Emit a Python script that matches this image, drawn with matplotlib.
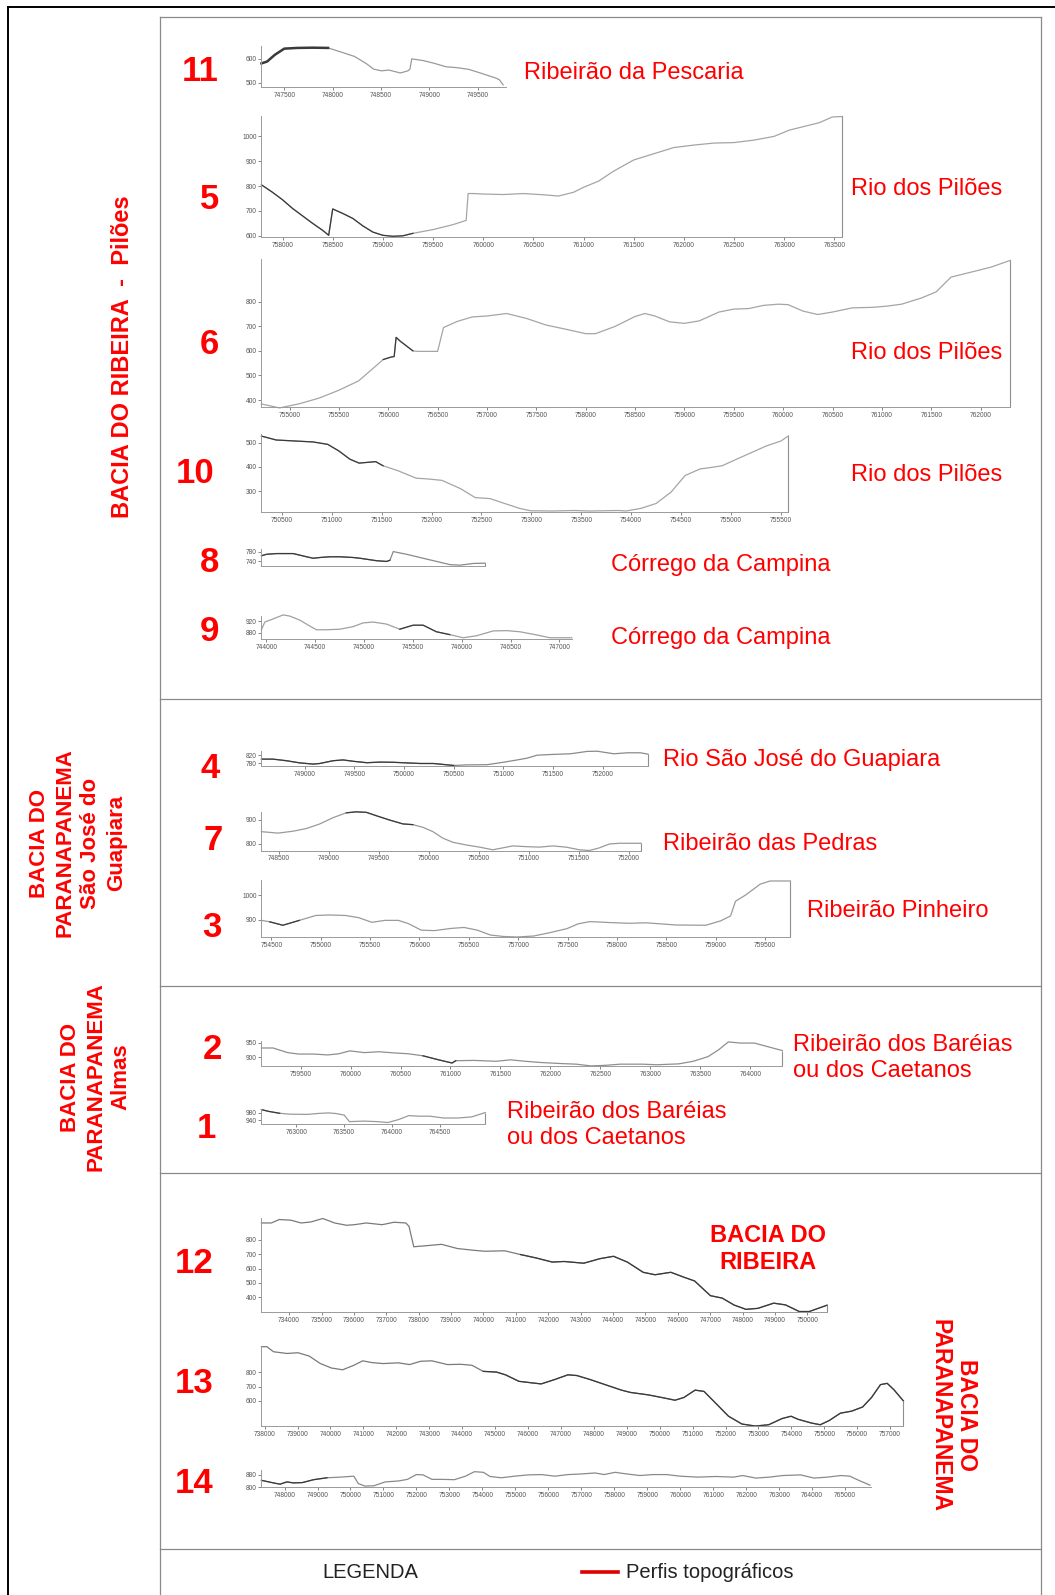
import matplotlib
matplotlib.use("Agg")
import matplotlib.pyplot as plt
from matplotlib.lines import Line2D

plt.rcParams['font.family'] = ['Liberation Sans', 'DejaVu Sans']

W, H = 1055, 1595
S = 1055 / 1037.0

# ---------------- data (UTM easting, altitude m) ----------------
p11_x = [747264, 747323, 747402, 747500, 747638, 747795, 747953, 748071, 748228, 748346, 748425, 748504, 748583,
         748701, 748780, 748800, 748819, 748937, 749055, 749173, 749291, 749409, 749527, 749685, 749724, 749764]
p11_y = [581, 589, 617, 643, 646, 647, 646, 631, 610, 581, 557, 550, 553, 541, 550, 557, 600, 593, 581, 567, 563,
         556, 541, 520, 513, 491]

p5_x = [757790, 757900, 758000, 758100, 758200, 758300, 758400, 758460, 758500, 758600, 758700, 758800, 758900,
        759000, 759100, 759200, 759300, 759500, 759700, 759830, 759850, 759900, 760000, 760200, 760400, 760600,
        760750, 760900, 761000, 761150, 761300, 761500, 761700, 761900, 762100, 762300, 762500, 762700, 762900,
        763050, 763200, 763350, 763480, 763580]
p5_y = [805, 775, 745, 710, 680, 650, 622, 602, 708, 690, 670, 640, 615, 602, 598, 600, 610, 625, 645, 662, 770,
        770, 768, 766, 770, 765, 760, 775, 795, 820, 860, 905, 930, 955, 965, 973, 975, 985, 1000, 1025, 1040,
        1055, 1078, 1080]

p6_x = [754716, 754900, 755100, 755300, 755500, 755700, 755850, 755950, 756030, 756060, 756080, 756120, 756250,
        756300, 756500, 756560, 756700, 756850, 757000, 757200, 757400, 757600, 757800, 758000, 758100, 758300,
        758500, 758600, 758700, 758850, 759000, 759150, 759350, 759500, 759650, 759800, 759950, 760050, 760200,
        760350, 760500, 760700, 760900, 761050, 761200, 761400, 761550, 761700, 761900, 762100, 762300]
p6_y = [384, 368, 385, 408, 440, 478, 530, 565, 575, 577, 655, 640, 600, 598, 598, 695, 720, 738, 742, 752, 732,
        705, 688, 670, 670, 700, 740, 752, 742, 718, 712, 722, 758, 770, 772, 785, 790, 788, 762, 748, 758, 775,
        777, 782, 790, 815, 840, 900, 920, 940, 968]

p10_x = [750297, 750445, 750630, 750815, 750961, 751072, 751183, 751275, 751441, 751515, 751662, 751847, 751958,
         752105, 752290, 752438, 752586, 752732, 752880, 752990, 753212, 753433, 753580, 753875, 753950, 754100,
         754250, 754400, 754540, 754690, 754800, 754910, 755055, 755203, 755350, 755500, 755575]
p10_y = [527, 511, 507, 503, 493, 466, 432, 416, 422, 405, 385, 354, 351, 345, 311, 274, 270, 250, 230, 220, 219,
         221, 219, 221, 219, 230, 250, 297, 365, 392, 398, 405, 432, 459, 486, 507, 528]

p8_x = [743949, 744000, 744102, 744273, 744410, 744478, 744546, 744649, 744751, 744888, 744956, 745024, 745126,
        745229, 745263, 745297, 745434, 745570, 745741, 745878, 745981, 746118, 746238]
p8_y = [763, 769, 772, 772, 759, 753, 756, 759, 759, 756, 753, 749, 743, 740, 745, 780, 769, 756, 740, 727, 725,
        732, 733]

p9_x = [743949, 743983, 744068, 744171, 744239, 744341, 744444, 744512, 744615, 744751, 744888, 744990, 745092,
        745229, 745366, 745502, 745605, 745741, 745878, 746015, 746152, 746323, 746459, 746596, 746767, 746903,
        747127]
p9_y = [890, 917, 928, 942, 938, 924, 903, 890, 890, 892, 901, 914, 917, 910, 892, 906, 906, 883, 873, 862, 869,
        886, 887, 883, 872, 862, 862]

p4_x = [748564, 748681, 748815, 748950, 749084, 749151, 749285, 749386, 749490, 749624, 749758, 749893, 750027,
        750161, 750295, 750500, 750634, 750836, 750970, 751104, 751238, 751339, 751507, 751675, 751842, 751943,
        752111, 752245, 752379, 752455]
p4_y = [801, 801, 793, 782, 776, 779, 793, 797, 790, 783, 786, 785, 782, 779, 779, 769, 772, 773, 783, 794, 806,
        821, 825, 828, 840, 841, 828, 833, 833, 826]

p7_x = [748323, 748490, 748640, 748773, 748907, 749040, 749173, 749273, 749373, 749473, 749607, 749740, 749840,
        749940, 750040, 750140, 750240, 750373, 750507, 750640, 750740, 750840, 750973, 751107, 751240, 751373,
        751507, 751607, 751707, 751807, 751907, 752123]
p7_y = [851, 845, 853, 864, 883, 909, 929, 933, 931, 917, 899, 883, 880, 869, 851, 824, 807, 796, 787, 776, 784,
        792, 789, 787, 792, 787, 776, 773, 784, 800, 803, 803]

p3_x = [754400, 754484, 754617, 754784, 754951, 755084, 755251, 755385, 755518, 755652, 755786, 755886, 756017,
        756151, 756318, 756452, 756585, 756719, 756853, 756990, 757157, 757324, 757492, 757609, 757726, 757926,
        758127, 758294, 758600, 758900, 759050, 759150, 759200, 759300, 759450, 759550, 759757]
p3_y = [897, 891, 877, 897, 917, 919, 917, 908, 889, 897, 897, 884, 857, 855, 864, 868, 857, 837, 831, 829, 833,
        847, 863, 883, 892, 888, 885, 887, 878, 877, 895, 915, 975, 1000, 1045, 1058, 1058]

p2_x = [759109, 759225, 759371, 759481, 759627, 759774, 759883, 759993, 760139, 760285, 760432, 760578, 760724,
        760870, 761016, 761053, 761236, 761455, 761601, 761748, 761894, 762113, 762259, 762405, 762551, 762698,
        762917, 763064, 763283, 763429, 763576, 763680, 763780, 763900, 764040, 764180, 764320]
p2_y = [932, 932, 916, 911, 911, 908, 912, 922, 916, 919, 915, 912, 905, 892, 880, 888, 889, 886, 891, 886, 882,
        878, 876, 870, 872, 876, 876, 874, 877, 886, 902, 925, 953, 949, 949, 936, 923]

p1_x = [762635, 762715, 762825, 762934, 763117, 763226, 763336, 763409, 763500, 763555, 763701, 763847, 763956,
        764066, 764175, 764285, 764394, 764540, 764686, 764832, 764975]
p1_y = [998, 988, 978, 973, 972, 977, 980, 977, 968, 932, 935, 932, 927, 943, 965, 962, 962, 952, 952, 958, 982]

p12_x = [733145, 733450, 733695, 734061, 734366, 734672, 735038, 735404, 735771, 736015, 736381, 736870, 737236,
         737603, 737700, 737848, 738214, 738703, 739191, 739679, 740046, 740656, 741144, 741633, 742121, 742488,
         743098, 743587, 744014, 744441, 744930, 745296, 745785, 746212, 746518, 747006, 747372, 747738, 748105,
         748471, 748959, 749325, 749750, 750060, 750610]
p12_y = [916, 916, 940, 935, 916, 923, 947, 916, 900, 904, 916, 904, 921, 916, 893, 751, 758, 768, 739, 727, 720,
         723, 697, 673, 645, 649, 637, 668, 685, 645, 574, 557, 574, 538, 514, 412, 395, 347, 317, 324, 360, 348,
         302, 302, 346]

p13_x = [737905, 738068, 738271, 738678, 739016, 739355, 739694, 740033, 740371, 740710, 740981, 741252, 741591,
         742065, 742404, 742743, 743081, 743556, 743962, 744301, 744640, 745046, 745317, 745724, 746130, 746401,
         746808, 747214, 747485, 747892, 748434, 748840, 749111, 749653, 750060, 750466, 750737, 751076, 751347,
         751686, 752092, 752499, 752905, 753312, 753719, 753990, 754201, 754607, 754878, 755149, 755488, 755827,
         756165, 756436, 756707, 756911, 757114, 757404]
p13_y = [976, 976, 941, 929, 934, 911, 859, 828, 816, 847, 878, 866, 859, 864, 852, 875, 878, 852, 854, 847, 805,
         800, 781, 736, 725, 718, 748, 781, 776, 748, 706, 675, 659, 642, 624, 605, 624, 675, 666, 588, 494, 440,
         426, 435, 478, 494, 473, 447, 435, 464, 515, 529, 558, 624, 713, 722, 678, 600]

p14_x = [747300, 747661, 747864, 748068, 748271, 748542, 748881, 749287, 749694, 750100, 750236, 750439, 750710,
         751049, 751455, 751726, 751997, 752200, 752472, 752810, 753149, 753488, 753759, 754030, 754233, 754572,
         754978, 755385, 755791, 756198, 756604, 757011, 757417, 757688, 758027, 758366, 758772, 759179, 759585,
         759992, 760534, 761076, 761618, 761890, 762295, 762702, 763108, 763650, 764057, 764463, 764870, 765141,
         765413, 765750]
p14_y = [844, 828, 820, 834, 828, 830, 848, 860, 864, 870, 824, 808, 810, 834, 840, 850, 880, 878, 850, 850, 848,
         870, 898, 894, 868, 860, 870, 878, 880, 870, 880, 884, 890, 880, 894, 884, 874, 880, 880, 870, 864, 868,
         864, 874, 858, 864, 874, 878, 858, 864, 874, 870, 844, 814]

numbers = ["11", "5", "6", "10", "8", "9", "4", "7", "3", "2", "1", "12", "13", "14"]

rivers = ["Ribeirão da Pescaria", "Rio dos Pilões", "Rio dos Pilões", "Rio dos Pilões", "Córrego da Campina",
          "Córrego da Campina", "Rio São José do Guapiara", "Ribeirão das Pedras", "Ribeirão Pinheiro",
          "Ribeirão dos Baréias\nou dos Caetanos", "Ribeirão dos Baréias\nou dos Caetanos"]

xt_500 = {
    "11": [747500, 748000, 748500, 749000, 749500],
    "5": [758000, 758500, 759000, 759500, 760000, 760500, 761000, 761500, 762000, 762500, 763000, 763500],
    "6": [755000, 755500, 756000, 756500, 757000, 757500, 758000, 758500, 759000, 759500, 760000, 760500,
          761000, 761500, 762000],
    "10": [750500, 751000, 751500, 752000, 752500, 753000, 753500, 754000, 754500, 755000, 755500],
    "8": [],
    "9": [744000, 744500, 745000, 745500, 746000, 746500, 747000],
    "4": [749000, 749500, 750000, 750500, 751000, 751500, 752000],
    "7": [748500, 749000, 749500, 750000, 750500, 751000, 751500, 752000],
    "3": [754500, 755000, 755500, 756000, 756500, 757000, 757500, 758000, 758500, 759000, 759500],
    "2": [759500, 760000, 760500, 761000, 761500, 762000, 762500, 763000, 763500, 764000],
    "1": [763000, 763500, 764000, 764500],
    "12": [734000, 735000, 736000, 737000, 738000, 739000, 740000, 741000, 742000, 743000, 744000, 745000,
           746000, 747000, 748000, 749000, 750000],
    "13": [738000, 739000, 740000, 741000, 742000, 743000, 744000, 745000, 746000, 747000, 748000, 749000,
           750000, 751000, 752000, 753000, 754000, 755000, 756000, 757000],
    "14": [748000, 749000, 750000, 751000, 752000, 753000, 754000, 755000, 756000, 757000, 758000, 759000,
           760000, 761000, 762000, 763000, 764000, 765000],
}
yticks = {
    "11": [500, 600], "5": [600, 700, 800, 900, 1000], "6": [400, 500, 600, 700, 800], "10": [300, 400, 500],
    "8": [740, 780], "9": [880, 920], "4": [780, 820], "7": [800, 900], "3": [900, 1000], "2": [900, 950],
    "1": [940, 980], "12": [400, 500, 600, 700, 800], "13": [600, 700, 800], "14": [800, 880],
}
series = {
    "11": (p11_x, p11_y), "5": (p5_x, p5_y), "6": (p6_x, p6_y), "10": (p10_x, p10_y), "8": (p8_x, p8_y),
    "9": (p9_x, p9_y), "4": (p4_x, p4_y), "7": (p7_x, p7_y), "3": (p3_x, p3_y), "2": (p2_x, p2_y),
    "1": (p1_x, p1_y), "12": (p12_x, p12_y), "13": (p13_x, p13_y), "14": (p14_x, p14_y),
}

# ---------------- layout (pixel boxes in the 1037-wide preview, scaled by S) ----------------
layout = {
    # key: (left, right, top, bottom, xlim, ylim, dark_range, base colour, closing edge)
    "11": (257, 497, 45, 86, (747264, 749790), (480, 655), (0, 7), "#9a9a9a", False),
    "5": (257, 828, 114, 233, (757790, 763580), (595, 1082), (0, 17), "#a5a5a5", True),
    "6": (257, 993, 255, 400, (754716, 762300), (372, 972), (7, 13), "#a5a5a5", True),
    "10": (257, 775, 427, 503, (750297, 755575), (216, 534), (0, 10), "#a5a5a5", True),
    "8": (257, 477, 540, 556, (743949, 746238), (723, 789), (0, 15), "#8a8a8a", True),
    "9": (257, 562, 605, 628, (743949, 747127), (858, 940), (14, 19), "#a0a0a0", False),
    "4": (257, 637, 738, 753, (748564, 752455), (766, 843), (0, 16), "#8a8a8a", True),
    "7": (257, 630, 798, 836, (748323, 752123), (773, 933), (6, 13), "#9a9a9a", True),
    "3": (257, 777, 865, 921, (754400, 759757), (829, 1062), (1, 4), "#9a9a9a", True),
    "2": (257, 769, 1023, 1048, (759109, 764320), (869, 957), (12, 16), "#8f8f8f", True),
    "1": (257, 477, 1090, 1105, (762635, 764975), (918, 1002), (0, 3), "#9a9a9a", True),
    "12": (257, 813, 1197, 1290, (733145, 750610), (296, 952), (22, 45), "#7a7a7a", True),
    "13": (257, 888, 1323, 1402, (737905, 757404), (424, 981), (20, 58), "#7a7a7a", True),
    "14": (257, 856, 1445, 1462, (747300, 765780), (800, 908), (0, 8), "#8a8a8a", False),
}

num_pos = {"11": (197, 70), "5": (206, 196), "6": (206, 339), "10": (192, 465), "8": (206, 553), "9": (206, 621),
           "4": (207, 755), "7": (209, 826), "3": (208, 912), "2": (209, 1032), "1": (203, 1109),
           "12": (191, 1242), "13": (191, 1360), "14": (191, 1458)}
river_pos = [(515, 72), (836, 186), (836, 347), (836, 467), (601, 555), (601, 627), (652, 747), (652, 830),
             (793, 895), (779, 1040), (498, 1106)]

RED = "#ff0000"
fig = plt.figure(figsize=(W / 100, H / 100), dpi=100)


def fx(x):
    return x * S / W


def fy(y):
    return 1 - y * S / H


for key in numbers:
    l, r, t, b, xl, yl, dk, base, close = layout[key]
    ax = fig.add_axes([fx(l), fy(b), fx(r) - fx(l), fy(t) - fy(b)])
    xs, ys = series[key]
    ax.plot(xs, ys, color=base, lw=0.9, solid_joinstyle="round", clip_on=False)
    ax.plot(xs[dk[0]:dk[1]], ys[dk[0]:dk[1]], color="#3a3a3a", lw=0.9 if key != "11" else 1.8,
            solid_joinstyle="round", clip_on=False)
    if close:
        ax.vlines(xs[-1], yl[0], ys[-1], color="#8f8f8f", lw=0.8, clip_on=False)
    ax.set_xlim(*xl)
    ax.set_ylim(*yl)
    ax.set_xticks(xt_500[key])
    ax.set_xticklabels([str(v) for v in xt_500[key]])
    ax.set_yticks(yticks[key])
    ax.set_yticklabels([str(v) for v in yticks[key]])
    ax.tick_params(axis="both", labelsize=4.8, colors="#555555", length=2, width=0.5, pad=1.5)
    for side in ("left", "bottom"):
        ax.spines[side].set_color("#9a9a9a")
        ax.spines[side].set_linewidth(0.7)
    ax.spines["top"].set_visible(False)
    ax.spines["right"].set_visible(False)
    ax.patch.set_alpha(0)
    nx, ny = num_pos[key]
    fig.text(fx(nx), fy(ny), key, color=RED, fontsize=25, fontweight="bold", ha="center", va="center")

for name, (rx, ry) in zip(rivers, river_pos):
    fig.text(fx(rx), fy(ry), name, color=RED, fontsize=17, ha="left", va="center", linespacing=1.2)

# side labels
fig.text(fx(120), fy(351), "BACIA DO RIBEIRA  -  Pilões", color=RED, fontsize=17, fontweight="bold",
         rotation=90, ha="center", va="center")
fig.text(78 / W, 1 - 843 / H, "BACIA DO\nPARANAPANEMA\nSão José do\nGuapiara", color=RED, fontsize=16,
         fontweight="bold", rotation=90, ha="center", va="center", linespacing=1.3, multialignment="center")
fig.text(96 / W, 1 - 1077 / H, "BACIA DO\nPARANAPANEMA\nAlmas", color=RED, fontsize=16,
         fontweight="bold", rotation=90, ha="center", va="center", linespacing=1.25, multialignment="center")
fig.text(fx(755), fy(1228), "BACIA DO\nRIBEIRA", color=RED, fontsize=17, fontweight="bold",
         ha="center", va="center", linespacing=1.22, multialignment="center")
fig.text(fx(937), fy(1391), "BACIA DO\nPARANAPANEMA", color=RED, fontsize=16.5, fontweight="bold",
         rotation=-90, ha="center", va="center", linespacing=1.15, multialignment="center")

# legend
fig.text(fx(364), fy(1546), "LEGENDA", color="#222222", fontsize=14.5, ha="center", va="center")
fig.add_artist(Line2D([fx(572), fx(607)], [fy(1545), fy(1545)], color="#e00000", lw=2.6,
                      transform=fig.transFigure))
fig.text(fx(615), fy(1546), "Perfis topográficos", color="#222222", fontsize=14.5, ha="left", va="center")

# frame lines
GREY = "#8a8a8a"


def fline(xs, ys, color, lw):
    fig.add_artist(Line2D([fx(v) for v in xs], [fy(v) for v in ys], color=color, lw=lw,
                          transform=fig.transFigure))


fline([8, 8], [7, 1570], "black", 1.4)
fline([8, 1037], [7, 7], "black", 1.4)
fline([157, 157], [17, 1570], GREY, 0.9)
fline([1023, 1023], [17, 1570], GREY, 0.9)
fline([157, 1023], [17, 17], GREY, 0.9)
for yy in (687, 969, 1153, 1523):
    fline([157, 1023], [yy, yy], GREY, 0.9)

fig.savefig("out.png", dpi=100, facecolor="white")
